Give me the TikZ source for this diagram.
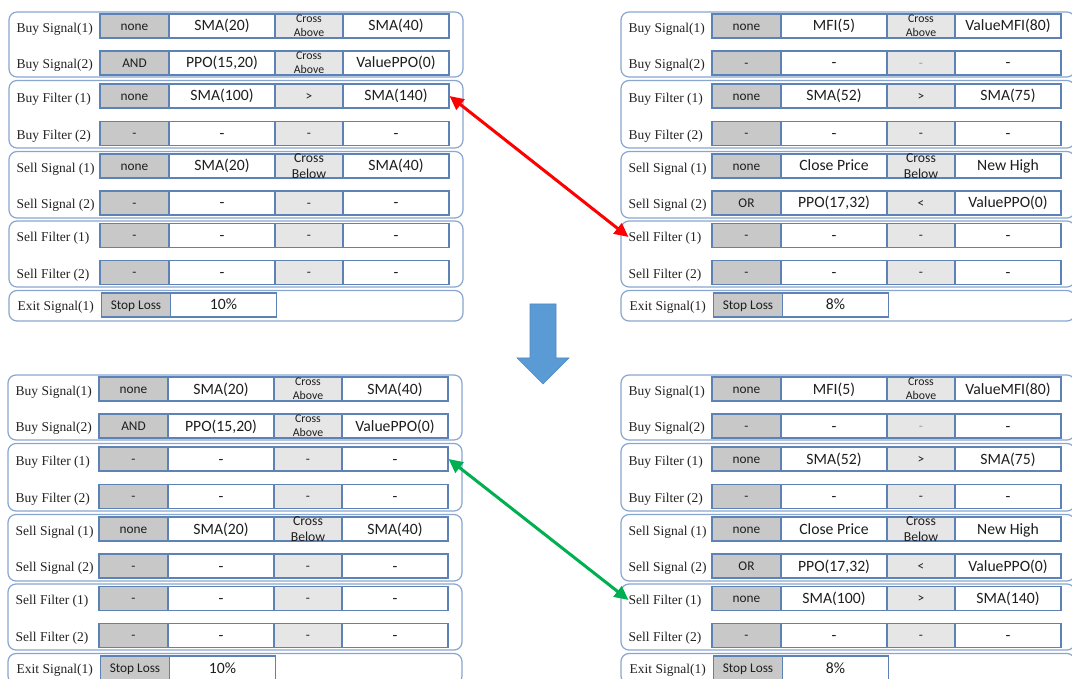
\documentclass[tikz,border=0pt]{standalone}
\usepackage{fontspec}
\setmainfont{Liberation Serif}
\newfontfamily\cellfont{Carlito}
\usetikzlibrary{arrows.meta}

\definecolor{cellline}{RGB}{92,130,182}
\definecolor{groupline}{RGB}{136,166,208}
\definecolor{opgray}{RGB}{200,200,200}
\definecolor{cmpgray}{RGB}{230,230,230}
\definecolor{txtdark}{RGB}{30,30,30}
\definecolor{labtxt}{RGB}{35,35,35}
\definecolor{linkred}{RGB}{255,0,0}
\definecolor{linkgreen}{RGB}{0,176,80}
\definecolor{blockblue}{RGB}{91,155,213}
\definecolor{blockedge}{RGB}{80,135,190}

\tikzset{
  cellbox/.style={draw=cellline, line width=1.1pt, minimum height=24pt, inner sep=0pt},
  opbox/.style={cellbox, fill=opgray, minimum width=69pt},
  valbox/.style={cellbox, fill=white, minimum width=106pt},
  cmpbox/.style={cellbox, fill=cmpgray, minimum width=68pt},
  optext/.style={inner sep=0pt, text=txtdark, text height=8.6pt, text depth=0pt,
    font=\cellfont\fontsize{13.3}{15}\selectfont},
  valtext/.style={inner sep=0pt, text=txtdark, text height=10pt, text depth=0pt,
    font=\cellfont\fontsize{15.7}{18}\selectfont},
  cmptext/.style={inner sep=0pt, text=txtdark, text height=8.6pt, text depth=0pt,
    font=\cellfont\fontsize{13.3}{15}\selectfont},
  crossabove/.style={inner sep=0pt, align=center, text=txtdark,
    font=\cellfont\fontsize{11.8}{14}\selectfont},
  crossbelow/.style={inner sep=0pt, align=center, text=txtdark,
    font=\cellfont\fontsize{13.7}{16}\selectfont},
  rowlabel/.style={anchor=west, inner sep=0pt, text=labtxt, text height=8.9pt, text depth=0pt,
    font=\fontsize{13.5}{15}\selectfont},
  groupframe/.style={draw=groupline, line width=1.2pt, rounded corners=8pt},
  linkarrow/.style={line width=3pt, {Triangle[length=14pt,width=13pt]}-{Triangle[length=14pt,width=13pt]}},
}

% one row of four cells: operator, left operand, comparison, right operand
\newcommand\cellrow[7]{%
  \node[opbox]  (#1o) at (134.5,#2) {};
  \node[valbox] (#1a) at (222,#2) {};
  \node[cmpbox] (#1c) at (309,#2) {};
  \node[valbox] (#1b) at (396,#2) {};
  \node[optext]  (#1ot) at (#1o.center) {#3};
  \node[valtext] (#1at) at (#1a.center) {#4};
  \node[#5]      (#1ct) at (#1c.center) {#6};
  \node[valtext] (#1bt) at (#1b.center) {#7};
}
\newcommand\dashrow[2]{\cellrow{#1}{#2}{-}{-}{cmptext}{-}{-}}
% exit row: rule and its value
\newcommand\exitrow[4]{%
  \node[opbox]  (#1o) at (136,#2) {};
  \node[valbox] (#1a) at (223.5,#2) {};
  \node[optext]  (#1ot) at (#1o.center) {#3};
  \node[valtext] (#1at) at (#1a.center) {#4};
}
% rounded group frames and the row captions of one rule set
\newcommand\panelframe[1]{%
  \draw[groupframe] (9,12) rectangle (463,77);
  \draw[groupframe] (9,80.5) rectangle (463,148);
  \draw[groupframe] (9,151.5) rectangle (463,218);
  \draw[groupframe] (9,221) rectangle (463,287);
  \draw[groupframe] (9,290.5) rectangle (463,321);
  \node[rowlabel] (#1l1) at (16.5,28) {Buy Signal(1)};
  \node[rowlabel] (#1l2) at (16.5,64.5) {Buy Signal(2)};
  \node[rowlabel] (#1l3) at (16.5,98) {Buy Filter (1)};
  \node[rowlabel] (#1l4) at (16.5,135) {Buy Filter (2)};
  \node[rowlabel] (#1l5) at (16.5,168) {Sell Signal (1)};
  \node[rowlabel] (#1l6) at (16.5,204.5) {Sell Signal (2)};
  \node[rowlabel] (#1l7) at (16.5,237) {Sell Filter (1)};
  \node[rowlabel] (#1l8) at (16.5,274) {Sell Filter (2)};
  \node[rowlabel] (#1l9) at (17.5,306) {Exit Signal(1)};
}

\begin{document}
\begin{tikzpicture}[x=1pt, y=-1pt]
\useasboundingbox (0,0) rectangle (1072,679);
\clip (0,0) rectangle (1072,679);
\fill[white] (0,0) rectangle (1072,679);

% original rule set
\begin{scope}
  \panelframe{TL}
  \cellrow{TLbs1}{26}{none}{SMA(20)}{crossabove}{Cross\\Above}{SMA(40)}
  \cellrow{TLbs2}{63}{AND}{PPO(15,20)}{crossabove}{Cross\\Above}{ValuePPO(0)}
  \cellrow{TLbf1}{96}{none}{SMA(100)}{cmptext}{>}{SMA(140)}
  \dashrow{TLbf2}{133.5}
  \cellrow{TLss1}{166}{none}{SMA(20)}{crossbelow}{Cross\\Below}{SMA(40)}
  \dashrow{TLss2}{203}
  \dashrow{TLsf1}{235.5}
  \dashrow{TLsf2}{272.5}
  \exitrow{TLex}{305}{Stop Loss}{10\%}
\end{scope}

\begin{scope}[shift={(612,0)}]
  \panelframe{TR}
  \cellrow{TRbs1}{26}{none}{MFI(5)}{crossabove}{Cross\\Above}{ValueMFI(80)}
  \cellrow{TRbs2}{63}{-}{-}{cmptext}{\color{black!40}-}{-}
  \cellrow{TRbf1}{96}{none}{SMA(52)}{cmptext}{>}{SMA(75)}
  \dashrow{TRbf2}{133.5}
  \cellrow{TRss1}{166}{none}{Close Price}{crossbelow}{Cross\\Below}{New High}
  \cellrow{TRss2}{203}{OR}{PPO(17,32)}{cmptext}{<}{ValuePPO(0)}
  \dashrow{TRsf1}{235.5}
  \dashrow{TRsf2}{272.5}
  \exitrow{TRex}{305}{Stop Loss}{8\%}
\end{scope}

% rule sets after the filter has been moved
\begin{scope}[shift={(-1,363)}]
  \panelframe{BL}
  \cellrow{BLbs1}{26}{none}{SMA(20)}{crossabove}{Cross\\Above}{SMA(40)}
  \cellrow{BLbs2}{63}{AND}{PPO(15,20)}{crossabove}{Cross\\Above}{ValuePPO(0)}
  \dashrow{BLbf1}{96}
  \dashrow{BLbf2}{133.5}
  \cellrow{BLss1}{166}{none}{SMA(20)}{crossbelow}{Cross\\Below}{SMA(40)}
  \dashrow{BLss2}{203}
  \dashrow{BLsf1}{235.5}
  \dashrow{BLsf2}{272.5}
  \exitrow{BLex}{305}{Stop Loss}{10\%}
\end{scope}

\begin{scope}[shift={(612,363)}]
  \panelframe{BR}
  \cellrow{BRbs1}{26}{none}{MFI(5)}{crossabove}{Cross\\Above}{ValueMFI(80)}
  \cellrow{BRbs2}{63}{-}{-}{cmptext}{\color{black!40}-}{-}
  \cellrow{BRbf1}{96}{none}{SMA(52)}{cmptext}{>}{SMA(75)}
  \dashrow{BRbf2}{133.5}
  \cellrow{BRss1}{166}{none}{Close Price}{crossbelow}{Cross\\Below}{New High}
  \cellrow{BRss2}{203}{OR}{PPO(17,32)}{cmptext}{<}{ValuePPO(0)}
  \cellrow{BRsf1}{235.5}{none}{SMA(100)}{cmptext}{>}{SMA(140)}
  \dashrow{BRsf2}{272.5}
  \exitrow{BRex}{305}{Stop Loss}{8\%}
\end{scope}

% block arrow between the two stages
\filldraw[fill=blockblue, draw=blockedge, line width=0.6pt]
  (530,304) -- (556,304) -- (556,358) -- (569,358) -- (543,384)
  -- (517,358) -- (530,358) -- cycle;

% links between the moved filter rows
\draw[linkarrow, draw=linkred, fill=linkred] (TLbf1b.east) -- (TRl7.west);
\draw[linkarrow, draw=linkgreen, fill=linkgreen] (BLbf1b.east) -- (BRl7.west);
\end{tikzpicture}
\end{document}
